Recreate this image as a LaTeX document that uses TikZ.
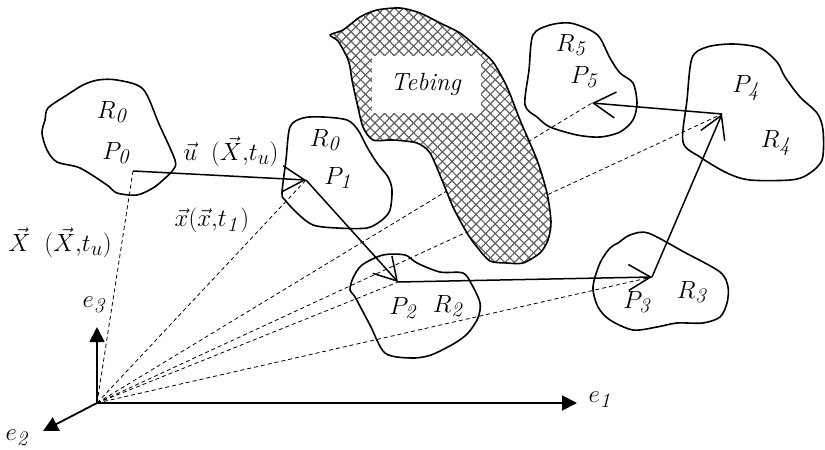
\documentclass[tikz,border=0pt]{standalone}
\usetikzlibrary{arrows.meta,patterns.meta}

\begin{document}
\begin{tikzpicture}[x=1pt,y=-1pt,
  blob/.style={line width=1.6pt,line join=round},
  vec/.style={line width=1.5pt,-{Straight Barb[length=22pt,width=26pt]}},
  ray/.style={line width=0.8pt,dash pattern=on 4pt off 3pt},
  axis/.style={line width=1.8pt,-{Triangle[length=15pt,width=15pt]}},
  lbl/.style={font=\fontsize{24.88}{28}\selectfont,inner sep=0pt}]
  \useasboundingbox (0,0) rectangle (825,450);
  % Points of the path
  \coordinate (o) at (97,403);
  \coordinate (p0) at (133,171);
  \coordinate (p1) at (306,180);
  \coordinate (p2) at (398,282);
  \coordinate (p3) at (652,277);
  \coordinate (p4) at (722,114);
  \coordinate (p5) at (592,103);
  % Position vectors from the origin
  \foreach \p in {p0,p1,p2,p3,p4,p5}{
    \draw[ray] (o) -- (\p);
  }
  % Tebing (obstacle)
  \draw[blob,preaction={fill=white},
    preaction={pattern={Lines[angle=45,distance=6.8pt,line width=1.2pt]},pattern color=gray!75!black},
    preaction={pattern={Lines[angle=-45,distance=6.8pt,line width=1.2pt]},pattern color=gray!75!black}]
    plot[smooth cycle,tension=0.45] coordinates
    {(330,35)(343,30)(360,17)(377,10)(400,8)(420,13)(440,23)(460,33)(477,47)
     (493,62)(507,87)(520,120)(537,160)(547,193)(551,222)(548,240)(540,253)
     (523,263)(507,263)(490,261)(477,247)(467,233)(453,207)(442,180)(430,153)
     (417,143)(393,140)(373,140)(363,127)(357,103)(352,80)(350,67)(347,57)(338,41)};
  \node[lbl,fill=white,minimum width=109pt,minimum height=57pt] (tebing) at (426,84) {\textit{Tebing}};
  % Regions
  \draw[blob] plot[smooth cycle,tension=0.5] coordinates
    {(98,80)(117,80)(143,89)(159,124)(175,160)(173,170)(163,180)(153,188)(137,195)
     (117,193)(107,185)(80,168)(57,162)(47,150)(42,133)(45,120)(48,108)(67,95)(83,85)};
  \draw[blob] plot[smooth cycle,tension=0.5] coordinates
    {(290,127)(303,118)(323,117)(347,120)(358,130)(367,147)(377,163)(388,177)(392,190)
     (390,210)(382,220)(367,228)(337,228)(313,225)(297,213)(285,200)(282,193)(286,160)};
  \draw[blob] plot[smooth cycle,tension=0.5] coordinates
    {(383,255)(405,255)(417,263)(440,272)(463,273)(472,285)(480,303)(478,318)(468,333)
     (455,343)(431,355)(411,358)(385,353)(370,325)(355,297)(350,290)(353,278)(362,265)};
  \draw[blob] plot[smooth cycle,tension=0.5] coordinates
    {(648,233)(684,252)(720,272)(728,287)(727,303)(720,317)(703,323)(677,323)(657,327)
     (633,330)(610,320)(598,307)(593,287)(600,263)(610,248)(618,243)(630,235)};
  \draw[blob] plot[smooth cycle,tension=0.5] coordinates
    {(692,58)(707,47)(733,44)(760,48)(777,62)(785,77)(800,97)(817,113)(823,130)
     (822,160)(807,175)(790,180)(750,180)(727,173)(700,157)(683,142)(687,100)};
  \draw[blob] plot[smooth cycle,tension=0.5] coordinates
    {(533,35)(550,25)(570,23)(590,30)(600,38)(610,58)(620,73)(633,83)(637,103)
     (633,120)(620,132)(600,137)(577,135)(550,127)(537,117)(525,105)(529,70)};
  % Displacement vectors
  \foreach \a/\b in {p0/p1,p1/p2,p2/p3,p3/p4,p4/p5}{
    \draw[vec] (\a) -- (\b);
  }
  % Axes
  \coordinate (e1tip) at (577,403);
  \coordinate (e2tip) at (43,431);
  \coordinate (e3tip) at (97,327);
  \draw[axis] (o) -- (e1tip);
  \draw[axis] (o) -- (e2tip);
  \draw[axis] (o) -- (e3tip);
  % Labels
  \foreach \n/\x/\y/\t in {lr0/113/112/R_{\mathit{0}},lp0/117/153/P_{\mathit{0}},
      lr1/326/140/R_{\mathit{0}},lp1/339/178/P_{\mathit{1}},
      lp2/404/308/P_{\mathit{2}},lr2/449/306/R_{\mathit{2}},
      lp3/638/302/P_{\mathit{3}},lr3/693/292/R_{\mathit{3}},
      lp4/747/88/P_{\mathit{4}},lr4/777/143/R_{\mathit{4}},
      lr5/572/45/R_{\mathit{5}},lp5/585/77/P_{\mathit{5}},
      le1/601/400/e_{\mathit{1}},le2/18/438/e_{\mathit{2}},le3/95/305/e_{\mathit{3}}}{
    \node[lbl] (\n) at (\x,\y) {$\t$};
  }
  \node[lbl] (ulbl) at (231,152) {$\vec{u}\;\;(\vec{X}{,}t_u)$};
  \node[lbl] (xlbl) at (212,220) {$\vec{x}(\vec{x}{,}t_{\mathit{1}})$};
  \node[lbl] (Xlbl) at (60,243) {$\vec{X}\;\;(\vec{X}{,}t_u)$};
\end{tikzpicture}
\end{document}
